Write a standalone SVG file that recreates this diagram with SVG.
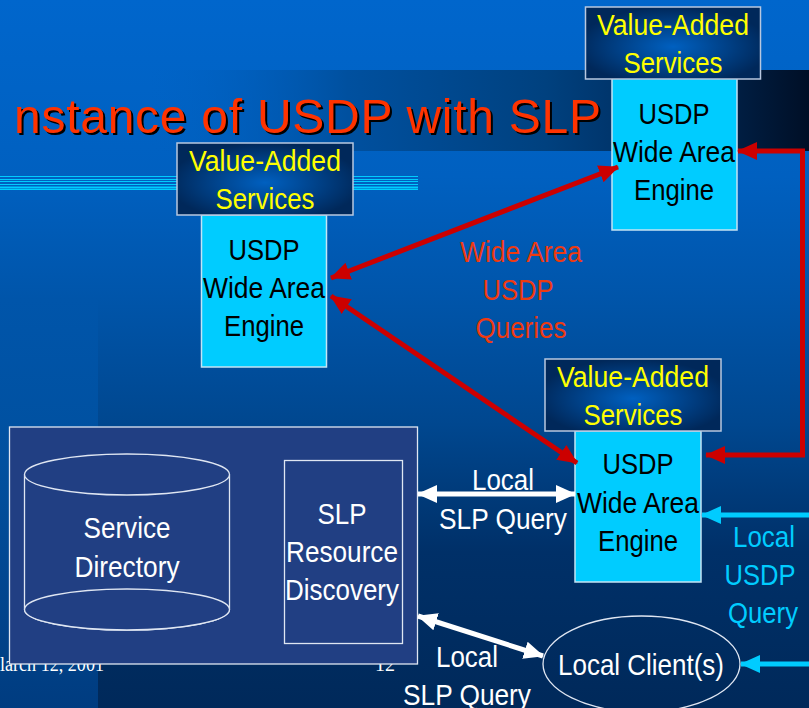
<svg xmlns="http://www.w3.org/2000/svg" width="809" height="708" viewBox="0 0 809 708">
<defs>
<linearGradient id="bg" x1="0" y1="0" x2="0" y2="1"><stop offset="0" stop-color="#0066cc"/><stop offset="0.25" stop-color="#0060c0"/><stop offset="0.42" stop-color="#0055aa"/><stop offset="0.6" stop-color="#00478f"/><stop offset="0.78" stop-color="#003068"/><stop offset="1" stop-color="#00295a"/></linearGradient>
<linearGradient id="strip" x1="0" y1="0" x2="0" y2="1"><stop offset="0" stop-color="#0055aa"/><stop offset="0.4" stop-color="#00509f"/><stop offset="1" stop-color="#003c80"/></linearGradient>
<linearGradient id="band" x1="0" y1="0" x2="1" y2="0"><stop offset="0" stop-color="#0060c0" stop-opacity="0"/><stop offset="0.3" stop-color="#00509f"/><stop offset="0.6" stop-color="#00417f"/><stop offset="0.8" stop-color="#002a5a"/><stop offset="1" stop-color="#000f26"/></linearGradient>
<radialGradient id="vas" cx="0.5" cy="0.55" r="0.55"><stop offset="0" stop-color="#0060c0"/><stop offset="1" stop-color="#00285a"/></radialGradient>
<marker id="ar" markerUnits="userSpaceOnUse" markerWidth="22" markerHeight="22" refX="19" refY="10" orient="auto-start-reverse"><path d="M0 1L20 10L0 19Z" fill="#cc0000"/></marker>
<marker id="aw" markerUnits="userSpaceOnUse" markerWidth="22" markerHeight="22" refX="19" refY="10" orient="auto-start-reverse"><path d="M0 1L20 10L0 19Z" fill="#fff"/></marker>
<marker id="ac" markerUnits="userSpaceOnUse" markerWidth="22" markerHeight="22" refX="19" refY="10" orient="auto-start-reverse"><path d="M0 1L20 10L0 19Z" fill="#00ccff"/></marker>
<style>
text{font-family:"Liberation Sans",Arial,sans-serif;font-size:30px;text-anchor:middle}
.vb{fill:url(#vas);stroke:#b8c8e0;stroke-width:1.5}
.eng{fill:#00ccff;stroke:#c4e4f4;stroke-width:1.5}
.y{fill:#ffff00}.k{fill:#000}.w{fill:#fff}.c{fill:#00ccff}.r{fill:#ee3a10}
.rl{stroke:#cc0000;stroke-width:5;fill:none}
.wl{stroke:#fff;stroke-width:5;fill:none}
.cl{stroke:#00ccff;stroke-width:5;fill:none}
.o{stroke:#dfe6f2;stroke-width:1.3;fill:#213f83}
.foot{font-family:"Liberation Serif",serif;font-size:20px;fill:#fff}
.rule{stroke:#00ccff;stroke-width:1}
.ttl{font-size:48px;text-anchor:start;fill:#ff3300;filter:drop-shadow(2px 2px 0 #000)}
</style>
</defs>
<rect width="809" height="708" fill="url(#bg)"/>
<path d="M0 300H98V708H0Z" fill="url(#strip)"/>
<rect x="150" y="70" width="659" height="81" fill="url(#band)"/>
<g id="rules" class="rule"><path d="M0 176.500H418M0 179.500H418M0 181.500H418M0 184.500H418M0 189.500H418"/><path d="M0 187.500H418" stroke-width="2"/></g>
<g id="title">
<text class="ttl" x="14" y="133" textLength="587" lengthAdjust="spacing">nstance of USDP with SLP</text>
</g>
<g id="footer"><text class="foot" x="0" y="671" style="text-anchor:start" textLength="104" lengthAdjust="spacingAndGlyphs">larch 12, 2001</text><text class="foot" x="385" y="671">12</text></g>
<g id="slp-panel"><rect class="o" x="9.500" y="427" width="408" height="237"/></g>
<g id="service-directory">
<path class="o" d="M24.500 474.500V609.500A102.500 20.500 0 0 0 229.500 609.500V474.500"/>
<ellipse class="o" cx="127" cy="474.500" rx="102.500" ry="20.500"/>
<ellipse class="o" cx="127" cy="609.500" rx="102.500" ry="20.500"/>
<text class="w" x="127" y="538" textLength="87" lengthAdjust="spacingAndGlyphs">Service</text>
<text class="w" x="127" y="577" textLength="105" lengthAdjust="spacingAndGlyphs">Directory</text>
</g>
<g id="slp-resource-discovery">
<rect class="o" x="284.500" y="460.500" width="118" height="183"/>
<text class="w" x="342" y="524" textLength="49" lengthAdjust="spacingAndGlyphs">SLP</text>
<text class="w" x="342" y="562" textLength="112" lengthAdjust="spacingAndGlyphs">Resource</text>
<text class="w" x="342" y="600" textLength="114" lengthAdjust="spacingAndGlyphs">Discovery</text>
</g>
<g id="engine-top">
<rect class="eng" x="612" y="78" width="125" height="152"/>
<text class="k" x="674" y="124" textLength="71" lengthAdjust="spacingAndGlyphs">USDP</text>
<text class="k" x="674" y="162" textLength="122" lengthAdjust="spacingAndGlyphs">Wide Area</text>
<text class="k" x="674" y="200" textLength="80" lengthAdjust="spacingAndGlyphs">Engine</text>
</g>
<g id="services-top">
<rect class="vb" x="585.500" y="7" width="175" height="72"/>
<text class="y" x="673" y="35" textLength="152" lengthAdjust="spacingAndGlyphs">Value-Added</text>
<text class="y" x="673" y="73" textLength="99" lengthAdjust="spacingAndGlyphs">Services</text>
</g>
<g id="engine-left">
<rect class="eng" x="201.500" y="215" width="125" height="152"/>
<text class="k" x="264" y="260" textLength="71" lengthAdjust="spacingAndGlyphs">USDP</text>
<text class="k" x="264" y="298" textLength="122" lengthAdjust="spacingAndGlyphs">Wide Area</text>
<text class="k" x="264" y="336" textLength="80" lengthAdjust="spacingAndGlyphs">Engine</text>
</g>
<g id="services-left">
<rect class="vb" x="177" y="143" width="176" height="72"/>
<text class="y" x="265" y="171" textLength="152" lengthAdjust="spacingAndGlyphs">Value-Added</text>
<text class="y" x="265" y="209" textLength="99" lengthAdjust="spacingAndGlyphs">Services</text>
</g>
<g id="engine-right">
<rect class="eng" x="575" y="431" width="126" height="151"/>
<text class="k" x="638" y="474" textLength="71" lengthAdjust="spacingAndGlyphs">USDP</text>
<text class="k" x="638" y="513" textLength="122" lengthAdjust="spacingAndGlyphs">Wide Area</text>
<text class="k" x="638" y="551" textLength="80" lengthAdjust="spacingAndGlyphs">Engine</text>
</g>
<g id="services-right">
<rect class="vb" x="545" y="359" width="176" height="72"/>
<text class="y" x="633" y="387" textLength="152" lengthAdjust="spacingAndGlyphs">Value-Added</text>
<text class="y" x="633" y="425" textLength="99" lengthAdjust="spacingAndGlyphs">Services</text>
</g>
<g id="local-client">
<ellipse cx="641.500" cy="664" rx="98.500" ry="48" fill="none" stroke="#dfe6f2" stroke-width="1.300"/>
<text class="w" x="641" y="675" textLength="166" lengthAdjust="spacingAndGlyphs">Local Client(s)</text>
</g>
<g id="connectors">
<path class="rl" marker-start="url(#ar)" marker-end="url(#ar)" d="M331 278L618 167"/>
<path class="rl" marker-start="url(#ar)" marker-end="url(#ar)" d="M331 296L577 463"/>
<path class="rl" marker-start="url(#ar)" marker-end="url(#ar)" d="M738 151H802.500V455H706"/>
<path class="wl" marker-start="url(#aw)" marker-end="url(#aw)" d="M418 494H575"/>
<path class="wl" marker-start="url(#aw)" marker-end="url(#aw)" d="M418 616L543 656"/>
<path class="cl" marker-end="url(#ac)" d="M809 515H702"/>
<path class="cl" marker-end="url(#ac)" d="M809 664H741"/>
</g>
<g id="labels">
<text class="r" x="521" y="262" textLength="122" lengthAdjust="spacingAndGlyphs">Wide Area</text>
<text class="r" x="518" y="300" textLength="71" lengthAdjust="spacingAndGlyphs">USDP</text>
<text class="r" x="521" y="338" textLength="91" lengthAdjust="spacingAndGlyphs">Queries</text>
<text class="w" x="503" y="490" textLength="62" lengthAdjust="spacingAndGlyphs">Local</text>
<text class="w" x="503" y="529" textLength="128" lengthAdjust="spacingAndGlyphs">SLP Query</text>
<text class="c" x="764" y="547" textLength="62" lengthAdjust="spacingAndGlyphs">Local</text>
<text class="c" x="760" y="585" textLength="71" lengthAdjust="spacingAndGlyphs">USDP</text>
<text class="c" x="763" y="623" textLength="70" lengthAdjust="spacingAndGlyphs">Query</text>
<text class="w" x="467" y="667" textLength="62" lengthAdjust="spacingAndGlyphs">Local</text>
<text class="w" x="467" y="705" textLength="128" lengthAdjust="spacingAndGlyphs">SLP Query</text>
</g>
</svg>
